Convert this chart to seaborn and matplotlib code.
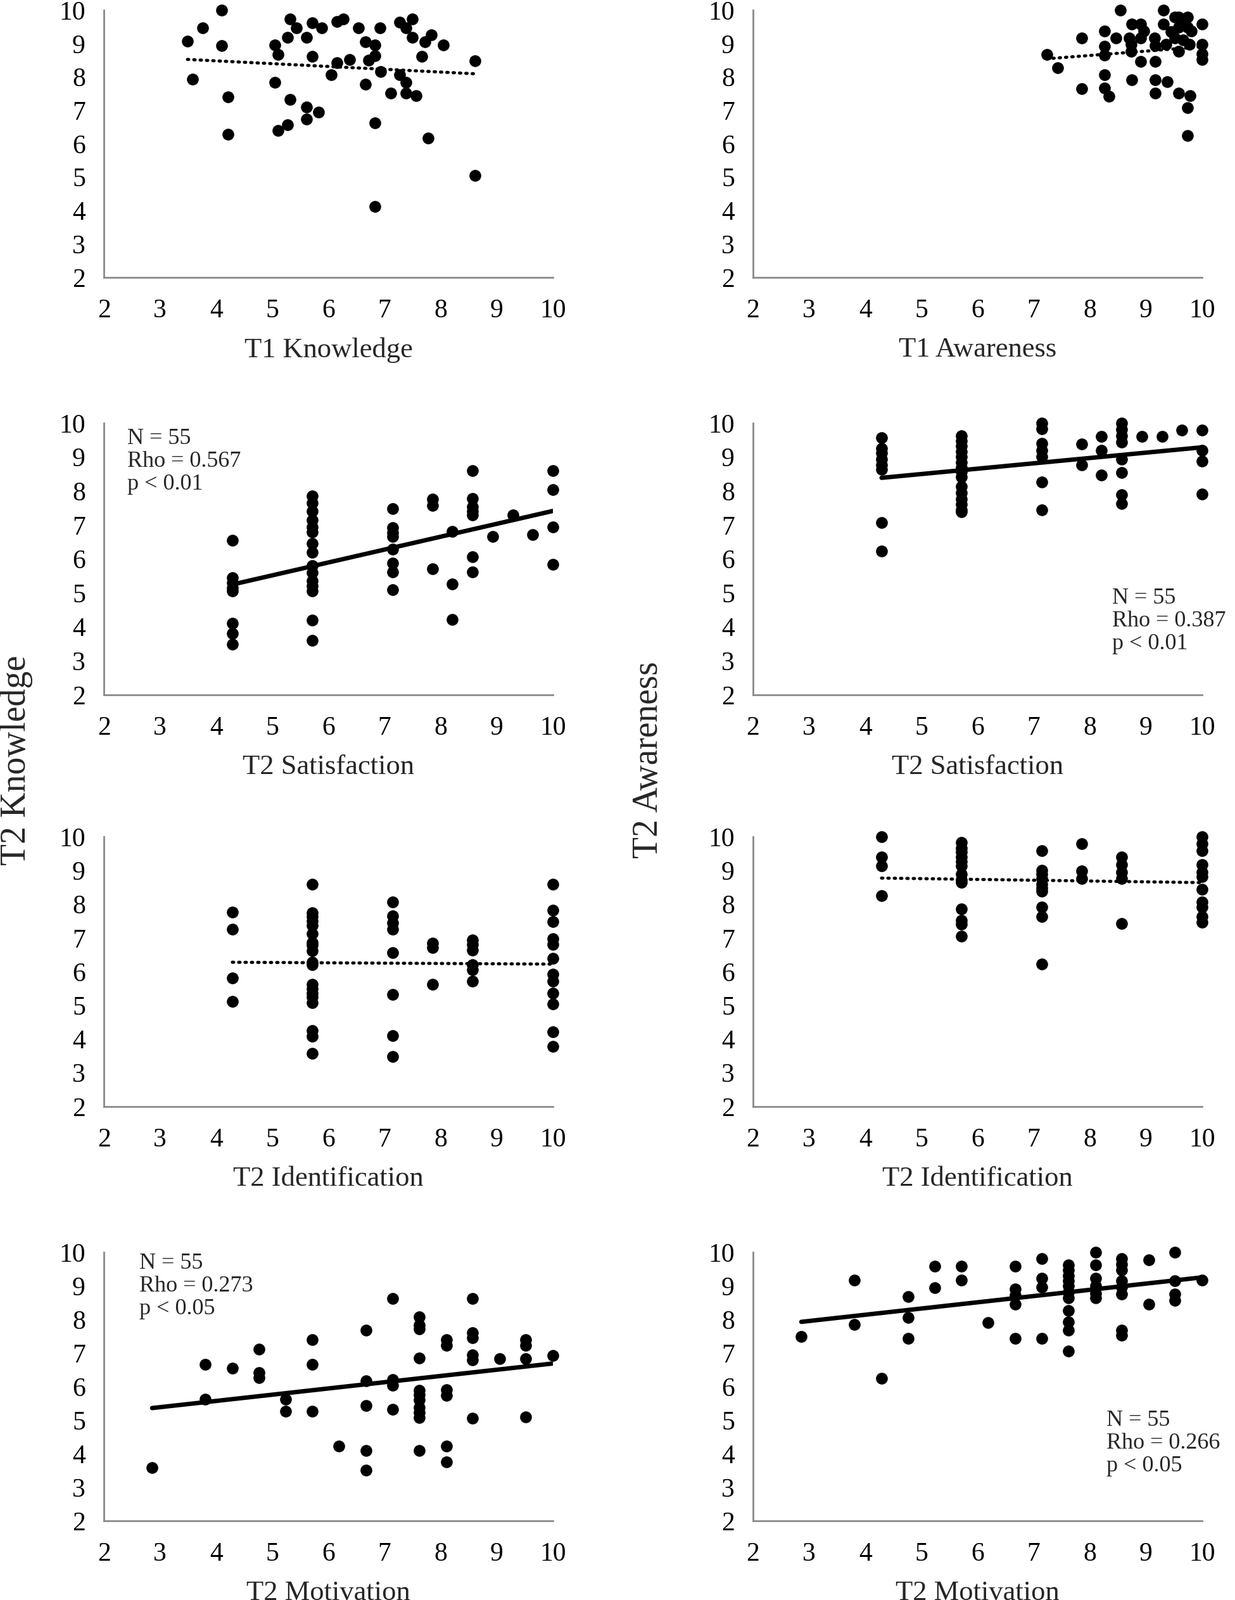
import matplotlib
matplotlib.use("Agg")
import matplotlib.pyplot as plt
import seaborn as sns

# T1 Knowledge vs T2 Knowledge
t1_know = [3.49, 3.76, 4.10, 4.10, 3.58, 4.21, 4.21, 5.05, 5.10, 5.05, 5.32, 5.43, 5.27, 5.61,
           5.71, 5.88, 5.71, 5.32, 5.61, 5.82, 5.61, 5.27, 5.10, 6.15, 6.27, 6.05, 6.15, 6.38,
           6.54, 6.66, 6.83, 6.92, 6.83, 6.72, 6.93, 6.66, 6.83, 6.83, 7.27, 7.49, 7.38, 7.49,
           7.27, 7.38, 7.11, 7.38, 7.56, 7.72, 7.83, 7.66, 8.05, 7.78, 8.61, 8.61]
t2_know_a = [9.07, 9.46, 10.0, 8.94, 7.94, 7.40, 6.29, 8.96, 8.67, 7.83, 9.73, 9.46, 9.18, 9.18,
             9.62, 9.46, 8.61, 7.33, 7.10, 6.95, 6.73, 6.56, 6.39, 9.65, 9.74, 8.06, 8.42, 8.52,
             9.46, 9.05, 8.96, 9.46, 8.63, 8.50, 8.16, 7.78, 6.62, 4.12, 9.64, 9.74, 9.46, 9.18,
             8.06, 7.84, 7.51, 7.51, 7.45, 9.05, 9.27, 8.61, 8.96, 6.18, 8.49, 5.06]

# T1 Awareness vs T2 Awareness
t1_aware = [7.23, 7.43, 7.86, 7.86, 8.26, 8.26, 8.26, 8.26, 8.26, 8.34, 8.55, 8.47, 8.70, 8.75,
            8.91, 8.96, 8.91, 8.74, 8.74, 8.91, 8.75, 9.15, 9.17, 9.17, 9.17, 9.17, 9.38, 9.31,
            9.31, 9.36, 9.51, 9.58, 9.74, 9.58, 9.74, 9.81, 9.51, 9.66, 9.77, 9.58, 9.58, 9.79,
            9.74, 9.74, 10.0, 10.0, 10.0, 10.0, 9.45, 9.66]
t2_aware_a = [8.67, 8.27, 9.16, 7.64, 9.38, 8.91, 8.66, 8.06, 7.66, 7.42, 10.0, 9.16, 9.16, 9.59,
              9.59, 9.37, 9.16, 8.98, 8.76, 8.47, 7.92, 9.16, 8.94, 8.47, 7.92, 7.51, 7.86, 10.0,
              9.59, 8.98, 9.79, 9.79, 9.79, 9.48, 9.48, 9.38, 9.16, 9.10, 8.98, 8.76, 7.51, 7.44,
              7.08, 6.24, 9.59, 8.98, 8.69, 8.52, 9.35, 9.67]

# T2 Satisfaction vs T2 Knowledge
sat_k = [4.29, 4.29, 4.29, 4.29, 4.29, 4.29, 4.29, 4.29,
         5.71, 5.71, 5.71, 5.71, 5.71, 5.71, 5.71, 5.71, 5.71, 5.71, 5.71, 5.71, 5.71, 5.71, 5.71,
         7.14, 7.14, 7.14, 7.14, 7.14, 7.14, 7.14, 7.14,
         7.86, 7.86, 7.86, 8.21, 8.21, 8.21,
         8.57, 8.57, 8.57, 8.57, 8.57, 8.57, 8.57,
         8.93, 9.29, 9.64, 10.0, 10.0, 10.0, 10.0]
know_s = [6.55, 5.45, 5.30, 5.15, 5.05, 4.10, 3.80, 3.50,
          7.85, 7.65, 7.40, 7.15, 6.95, 6.80, 6.45, 6.20, 5.80, 5.60, 5.35, 5.20, 5.05, 4.20, 3.60,
          7.49, 6.92, 6.78, 6.66, 6.28, 5.87, 5.62, 5.10,
          7.76, 7.57, 5.72, 6.82, 5.27, 4.22,
          8.61, 7.79, 7.54, 7.41, 7.29, 6.06, 5.61,
          6.66, 7.29, 6.72, 8.61, 8.05, 6.94, 5.84]

# T2 Satisfaction vs T2 Awareness
sat_a = [4.29, 4.29, 4.29, 4.29, 4.29, 4.29, 4.29, 4.29,
         5.71, 5.71, 5.71, 5.71, 5.71, 5.71, 5.71, 5.71, 5.71, 5.71, 5.71, 5.71, 5.71, 5.71, 5.71,
         7.14, 7.14, 7.14, 7.14, 7.14, 7.14, 7.14,
         7.86, 7.86, 8.21, 8.21, 8.21,
         8.57, 8.57, 8.57, 8.57, 8.57, 8.57, 8.57, 8.57,
         8.93, 9.29, 9.64, 10.0, 10.0, 10.0, 10.0]
aware_s = [9.58, 9.25, 9.13, 8.94, 8.76, 8.63, 7.07, 6.24,
           9.63, 9.47, 9.32, 9.16, 9.01, 8.85, 8.70, 8.57, 8.42, 8.14, 7.95, 7.76, 7.61, 7.45, 7.39,
           10.0, 9.84, 9.41, 9.19, 9.01, 8.26, 7.45,
           9.38, 8.76, 9.60, 9.19, 8.48,
           10.0, 9.81, 9.63, 9.44, 8.94, 8.54, 7.89, 7.64,
           9.60, 9.60, 9.80, 9.80, 9.19, 8.88, 7.92]

# T2 Identification vs T2 Knowledge
ident_k = [4.29, 4.29, 4.29, 4.29,
           5.71, 5.71, 5.71, 5.71, 5.71, 5.71, 5.71, 5.71, 5.71, 5.71, 5.71, 5.71, 5.71, 5.71,
           5.71, 5.71, 5.71, 5.71, 5.71,
           7.14, 7.14, 7.14, 7.14, 7.14, 7.14, 7.14, 7.14,
           7.86, 7.86, 7.86,
           8.57, 8.57, 8.57, 8.57, 8.57, 8.57,
           10.0, 10.0, 10.0, 10.0, 10.0, 10.0, 10.0, 10.0, 10.0, 10.0, 10.0, 10.0]
know_i = [7.77, 7.26, 5.82, 5.11,
          8.60, 7.75, 7.63, 7.50, 7.38, 7.13, 6.87, 6.78, 6.62, 6.28, 6.21, 5.62, 5.49, 5.36,
          5.24, 5.08, 4.26, 4.08, 3.57,
          8.06, 7.66, 7.44, 7.25, 6.56, 5.33, 4.11, 3.49,
          6.84, 6.72, 5.62,
          6.94, 6.81, 6.64, 6.21, 6.06, 5.71,
          8.60, 7.83, 7.49, 6.97, 6.81, 6.40, 5.93, 5.71, 5.36, 5.05, 4.21, 3.78]

# T2 Identification vs T2 Awareness
ident_a = [4.29, 4.29, 4.29, 4.29,
           5.71, 5.71, 5.71, 5.71, 5.71, 5.71, 5.71, 5.71, 5.71, 5.71, 5.71, 5.71, 5.71,
           7.14, 7.14, 7.14, 7.14, 7.14, 7.14, 7.14, 7.14, 7.14, 7.14,
           7.86, 7.86, 7.86,
           8.57, 8.57, 8.57, 8.57, 8.57,
           10.0, 10.0, 10.0, 10.0, 10.0, 10.0, 10.0, 10.0, 10.0, 10.0, 10.0]
aware_i = [10.0, 9.39, 9.14, 8.26,
           9.83, 9.67, 9.55, 9.39, 9.26, 9.14, 8.89, 8.73, 8.64, 7.85, 7.53, 7.41, 7.06,
           9.58, 9.01, 8.89, 8.76, 8.60, 8.48, 8.38, 7.91, 7.63, 6.23,
           9.80, 8.98, 8.76,
           9.39, 9.17, 8.95, 8.76, 7.42,
           10.0, 9.80, 9.58, 9.17, 8.95, 8.82, 8.45, 8.07, 7.91, 7.63, 7.47]

# T2 Motivation vs T2 Knowledge
motiv_k = [2.86, 3.81, 3.81, 4.29, 4.76, 4.76, 4.76, 5.24, 5.24, 5.71, 5.71, 5.71, 6.19,
           6.67, 6.67, 6.67, 6.67, 6.67, 7.14, 7.14, 7.14, 7.14,
           7.62, 7.62, 7.62, 7.62, 7.62, 7.62, 7.62, 7.62, 7.62, 7.62, 7.62,
           8.10, 8.10, 8.10, 8.10, 8.10, 8.10,
           8.57, 8.57, 8.57, 8.57, 8.57, 8.57,
           9.05, 9.52, 9.52, 9.52, 9.52, 10.0]
know_m = [3.59, 6.66, 5.63, 6.54, 7.11, 6.42, 6.26, 5.63, 5.27, 7.39, 6.66, 5.27, 4.22,
          7.67, 6.17, 5.44, 4.09, 3.51, 8.62, 6.20, 6.04, 5.32,
          8.08, 7.83, 7.71, 6.84, 5.88, 5.76, 5.60, 5.38, 5.22, 5.08, 4.09,
          7.39, 7.23, 5.91, 5.73, 4.22, 3.76,
          8.62, 7.61, 7.45, 6.95, 6.79, 5.05,
          6.83, 7.39, 7.23, 6.83, 5.10, 6.93]

# T2 Motivation vs T2 Awareness
motiv_a = [2.86, 3.81, 3.81, 4.29, 4.76, 4.76, 4.76, 5.24, 5.24, 5.71, 5.71, 6.19,
           6.67, 6.67, 6.67, 6.67, 6.67, 7.14, 7.14, 7.14, 7.14,
           7.62, 7.62, 7.62, 7.62, 7.62, 7.62, 7.62, 7.62, 7.62, 7.62, 7.62,
           8.10, 8.10, 8.10, 8.10, 8.10, 8.10,
           8.57, 8.57, 8.57, 8.57, 8.57, 8.57, 8.57, 8.57,
           9.05, 9.05, 9.52, 9.52, 9.52, 9.52, 10.0]
aware_m = [7.49, 9.17, 7.84, 6.24, 8.68, 8.06, 7.43, 9.58, 8.95, 9.58, 9.17, 7.91,
           9.58, 8.90, 8.71, 8.46, 7.43, 9.81, 9.22, 8.96, 7.43,
           9.62, 9.47, 9.31, 9.15, 9.00, 8.81, 8.65, 8.27, 7.93, 7.68, 7.05,
           10.0, 9.62, 9.22, 9.00, 8.78, 8.65,
           9.81, 9.65, 9.47, 9.15, 8.96, 8.75, 7.68, 7.52,
           9.78, 8.46, 10.0, 9.15, 8.75, 8.56, 9.17]

x_labels = ["T1 Knowledge", "T1 Awareness", "T2 Satisfaction", "T2 Satisfaction",
            "T2 Identification", "T2 Identification", "T2 Motivation", "T2 Motivation"]
stats = {2: ("N = 55\nRho = 0.567\np < 0.01", 2.42, 9.85),
         3: ("N = 55\nRho = 0.387\np < 0.01", 8.40, 5.15),
         6: ("N = 55\nRho = 0.273\np < 0.05", 2.63, 9.98),
         7: ("N = 55\nRho = 0.266\np < 0.05", 8.30, 5.30)}

panels = [(t1_know, t2_know_a), (t1_aware, t2_aware_a), (sat_k, know_s), (sat_a, aware_s),
          (ident_k, know_i), (ident_a, aware_i), (motiv_k, know_m), (motiv_a, aware_m)]

sns.set_style("white")
plt.rcParams["font.family"] = ["Liberation Serif", "DejaVu Serif"]

fig = plt.figure(figsize=(19.5, 25.26), dpi=100)

W, H = 1950, 2526
col_left = [164, 1189]
col_width = 709
rows = [(16, 438), (668, 1097), (1321, 1747), (1977, 2401)]
grey = "#8a8a8a"

for i, (xs, ys) in enumerate(panels):
    r, c = divmod(i, 2)
    top, bottom = rows[r]
    ax = fig.add_axes([col_left[c] / W, 1 - bottom / H, col_width / W, (bottom - top) / H])
    significant = i in stats
    if significant:
        line_kws = {"color": "black", "lw": 5}
    else:
        # non-significant trend: round dotted line
        line_kws = {"color": "black", "lw": 3.6, "linestyle": (0, (0.4, 1.6)),
                    "dash_capstyle": "round"}
    sns.regplot(x=xs, y=ys, ax=ax, ci=None, color="black",
                scatter_kws={"s": 180, "linewidths": 0, "alpha": 1, "clip_on": False},
                line_kws=line_kws)
    ax.set_xlim(2, 10)
    ax.set_ylim(2, 10)
    ax.set_xticks(range(2, 11))
    ax.set_yticks(range(2, 11))
    for side in ["top", "right"]:
        ax.spines[side].set_visible(False)
    for side in ["left", "bottom"]:
        ax.spines[side].set_color(grey)
        ax.spines[side].set_linewidth(2)
    ax.tick_params(axis="both", direction="in", length=8.5, width=2, color=grey,
                   labelsize=30, labelcolor="black")
    ax.tick_params(axis="x", pad=24)
    ax.tick_params(axis="y", pad=21)
    ax.set_xlabel(x_labels[i], fontsize=32, labelpad=16)
    ax.set_ylabel("")
    if significant:
        txt, tx, ty = stats[i]
        ax.text(tx, ty, txt, fontsize=26, ha="left", va="top", linespacing=1.12,
                clip_on=False)

fig.text(26 / W, 1 - 1200 / H, "T2 Knowledge", rotation=90, fontsize=40,
         ha="center", va="center")
fig.text(1024 / W, 1 - 1200 / H, "T2 Awareness", rotation=90, fontsize=40,
         ha="center", va="center")

fig.savefig("out.png", dpi=100, facecolor="white")
